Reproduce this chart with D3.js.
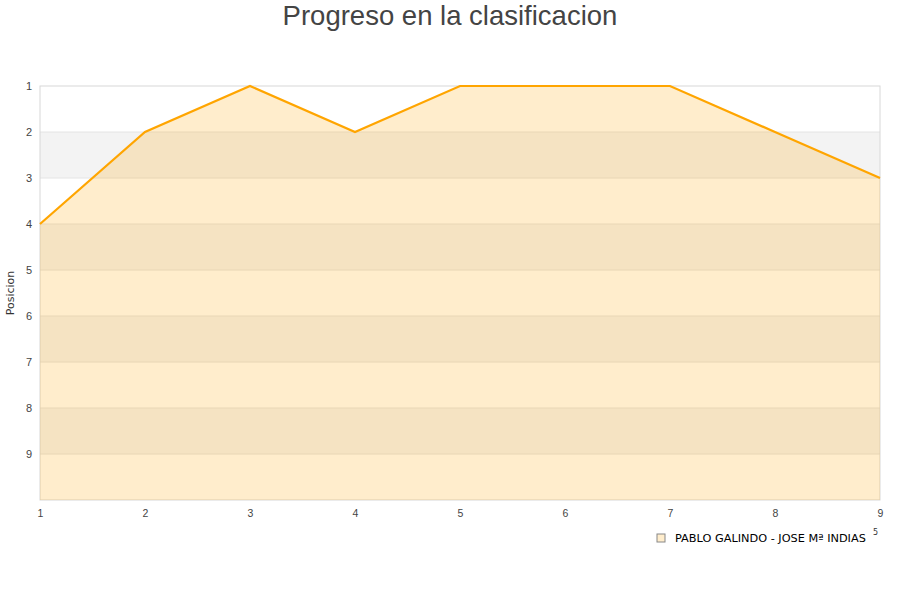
<!DOCTYPE html>
<html lang="es">
<head>
<meta charset="UTF-8">
<title>Progreso en la clasificacion</title>
<style>
  body { margin: 0; background: #fff; }
  svg { display: block; font-family: "DejaVu Sans", sans-serif; }
  .title { font-family: "Liberation Sans", Arial, sans-serif; font-size: 27.5px; fill: #444; text-anchor: middle; }
  .tick-label { font-size: 11px; fill: #333; }
</style>
</head>
<body>
<svg id="chart" width="900" height="600"></svg>
<script src="https://cdnjs.cloudflare.com/ajax/libs/d3/7.8.5/d3.min.js"></script>
<script>
// jornadas y posicion del equipo
const jornadas = [1, 2, 3, 4, 5, 6, 7, 8, 9];
const posiciones = [4, 2, 1, 2, 1, 1, 1, 2, 3];
const yTicks = [1, 2, 3, 4, 5, 6, 7, 8, 9];
const equipo = "PABLO GALINDO - JOSE Mª INDIAS";

const margin = { top: 86, right: 20, bottom: 100, left: 40 };
const width = 900, height = 600;

const svg = d3.select("#chart");

const x = d3.scaleLinear().domain([1, 9]).range([margin.left, width - margin.right]);
const y = d3.scaleLinear().domain([1, 10]).range([margin.top, height - margin.bottom]);

// bandas alternas
svg.append("g")
  .selectAll("rect")
  .data(d3.range(1, 10))
  .join("rect")
  .attr("x", x(1))
  .attr("y", d => y(d))
  .attr("width", x(9) - x(1))
  .attr("height", y(2) - y(1))
  .attr("fill", d => d % 2 === 0 ? "#f3f3f3" : "#fff");

// lineas de rejilla
svg.append("g")
  .selectAll("line")
  .data(d3.range(2, 10))
  .join("line")
  .attr("x1", x(1)).attr("x2", x(9))
  .attr("y1", d => y(d)).attr("y2", d => y(d))
  .attr("stroke", "#e4e4e4");

// borde
svg.append("rect")
  .attr("x", x(1)).attr("y", y(1))
  .attr("width", x(9) - x(1)).attr("height", y(10) - y(1))
  .attr("fill", "none")
  .attr("stroke", "#d8d8d8");

const data = jornadas.map((j, i) => ({ j, p: posiciones[i] }));

const area = d3.area()
  .x(d => x(d.j))
  .y0(y(10))
  .y1(d => y(d.p));

svg.append("path")
  .datum(data)
  .attr("d", area)
  .attr("fill", "rgba(255,165,0,0.2)");

const line = d3.line()
  .x(d => x(d.j))
  .y(d => y(d.p));

svg.append("path")
  .datum(data)
  .attr("d", line)
  .attr("fill", "none")
  .attr("stroke", "#ffa500")
  .attr("stroke-width", 2.2);

// ejes
const yAxis = d3.axisLeft(y).tickValues(yTicks).tickSize(0).tickPadding(8);
svg.append("g")
  .attr("transform", `translate(${margin.left},0)`)
  .call(yAxis)
  .call(g => g.select(".domain").remove())
  .selectAll("text").attr("class", "tick-label").attr("font-family", null).attr("font-size", null)
  .style("fill", "#444");

const xAxis = d3.axisBottom(x).tickValues(jornadas).tickSize(0).tickPadding(10);
svg.append("g")
  .attr("transform", `translate(0,${y(10)})`)
  .call(xAxis)
  .call(g => g.select(".domain").remove())
  .selectAll("text").attr("class", "tick-label").attr("font-family", null).attr("font-size", null)
  .style("font-size", "10.5px").style("fill", "#444");

svg.append("text")
  .attr("transform", `translate(14,${(y(1) + y(10)) / 2}) rotate(-90)`)
  .attr("text-anchor", "middle")
  .style("font-size", "11px")
  .attr("fill", "#333")
  .text("Posicion");

// titulo
svg.append("text")
  .attr("class", "title")
  .attr("x", width / 2)
  .attr("y", 25)
  .text("Progreso en la clasificacion");

// leyenda
const legend = svg.append("g").attr("transform", "translate(657,534)");
legend.append("rect")
  .attr("width", 8).attr("height", 8)
  .attr("fill", "#ffedcc")
  .attr("stroke", "#888");
legend.append("text")
  .attr("x", 18).attr("y", 8)
  .style("font-size", "11.3px")
  .attr("fill", "#000")
  .text(equipo);

svg.append("text")
  .attr("x", 873).attr("y", 535)
  .style("font-size", "8px")
  .attr("fill", "#333")
  .text("5");
</script>
</body>
</html>
